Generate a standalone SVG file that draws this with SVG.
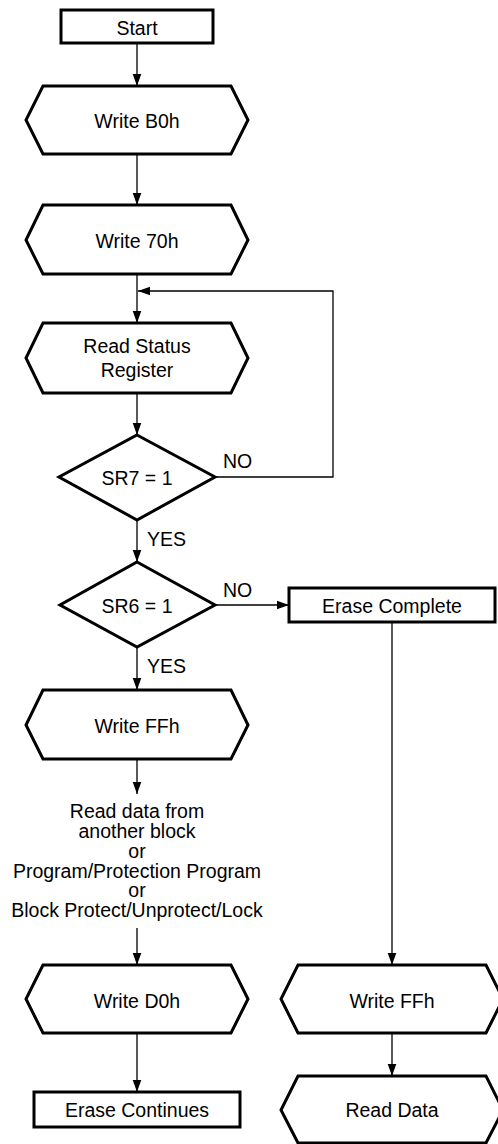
<svg xmlns="http://www.w3.org/2000/svg" width="498" height="1144" viewBox="0 0 498 1144">
<style>
.n{fill:#fff;stroke:#000;stroke-width:3;stroke-linejoin:miter}
.t{font-family:"Liberation Sans",Arial,sans-serif;font-size:19.5px;fill:#000;text-anchor:middle}
.l{font-family:"Liberation Sans",Arial,sans-serif;font-size:19.5px;fill:#000}
.c{fill:none;stroke:#000;stroke-width:1.3}
</style>
<defs>
<marker id="a" markerUnits="userSpaceOnUse" markerWidth="12" markerHeight="14" refX="14" refY="5" orient="auto" viewBox="0 0 14 10">
<path d="M0,0 L14,5 L0,10 Z" fill="#000"/>
</marker>
</defs>
<rect width="498" height="1144" fill="#fff"/>
<g id="connectors">
<line class="c" x1="137" y1="44" x2="137" y2="86" marker-end="url(#a)"/>
<line class="c" x1="137" y1="154" x2="137" y2="205" marker-end="url(#a)"/>
<line class="c" x1="137" y1="274" x2="137" y2="323" marker-end="url(#a)"/>
<polyline class="c" points="215,477 333,477 333,291 138,291" marker-end="url(#a)"/>
<line class="c" x1="137" y1="393" x2="137" y2="435" marker-end="url(#a)"/>
<line class="c" x1="137" y1="520" x2="137" y2="562" marker-end="url(#a)"/>
<line class="c" x1="215" y1="605" x2="289" y2="605" marker-end="url(#a)"/>
<line class="c" x1="137" y1="647" x2="137" y2="690" marker-end="url(#a)"/>
<line class="c" x1="137" y1="759" x2="137" y2="794" marker-end="url(#a)"/>
<line class="c" x1="137" y1="928" x2="137" y2="965" marker-end="url(#a)"/>
<line class="c" x1="137" y1="1033" x2="137" y2="1092" marker-end="url(#a)"/>
<line class="c" x1="392" y1="622" x2="392" y2="965" marker-end="url(#a)"/>
<line class="c" x1="392" y1="1033" x2="392" y2="1076" marker-end="url(#a)"/>
<text class="l" x="223" y="468">NO</text>
<text class="l" x="147" y="546">YES</text>
<text class="l" x="223" y="597">NO</text>
<text class="l" x="147" y="673">YES</text>
</g>
<g id="start">
<rect class="n" x="61" y="10" width="152" height="33"/>
<text class="t" x="137" y="35">Start</text>
</g>
<g id="writeB0h">
<polygon class="n" points="43,86 231,86 248,120 231,154 43,154 26,120"/>
<text class="t" x="137" y="128">Write B0h</text>
</g>
<g id="write70h">
<polygon class="n" points="43,205 231,205 248,240 231,274 43,274 26,240"/>
<text class="t" x="137" y="248">Write 70h</text>
</g>
<g id="readStatus">
<polygon class="n" points="43,323 231,323 248,358 231,393 43,393 26,358"/>
<text class="t" x="137" y="353">Read Status</text>
<text class="t" x="137" y="377">Register</text>
</g>
<g id="sr7">
<polygon class="n" points="137,435 215,477 137,520 59,477"/>
<text class="t" x="137" y="485">SR7 = 1</text>
</g>
<g id="sr6">
<polygon class="n" points="137,562 215,605 137,647 60,605"/>
<text class="t" x="137" y="613">SR6 = 1</text>
</g>
<g id="eraseComplete">
<rect class="n" x="289" y="588" width="206" height="34"/>
<text class="t" x="392" y="613">Erase Complete</text>
</g>
<g id="writeFFh1">
<polygon class="n" points="43,690 231,690 248,725 231,759 43,759 26,725"/>
<text class="t" x="137" y="733">Write FFh</text>
</g>
<g id="otherOps">
<text class="t" x="137" y="818">Read data from</text>
<text class="t" x="137" y="838">another block</text>
<text class="t" x="137" y="858">or</text>
<text class="t" x="137" y="878">Program/Protection Program</text>
<text class="t" x="137" y="897">or</text>
<text class="t" x="137" y="917">Block Protect/Unprotect/Lock</text>
</g>
<g id="writeD0h">
<polygon class="n" points="43,965 231,965 248,999 231,1033 43,1033 26,999"/>
<text class="t" x="137" y="1008">Write D0h</text>
</g>
<g id="eraseContinues">
<rect class="n" x="34" y="1092" width="206" height="35"/>
<text class="t" x="137" y="1117">Erase Continues</text>
</g>
<g id="writeFFh2">
<polygon class="n" points="298,965 486,965 503,999 486,1033 298,1033 281,999"/>
<text class="t" x="392" y="1008">Write FFh</text>
</g>
<g id="readData">
<polygon class="n" points="298,1076 486,1076 503,1110 486,1143 298,1143 281,1110"/>
<text class="t" x="392" y="1117">Read Data</text>
</g>
</svg>
